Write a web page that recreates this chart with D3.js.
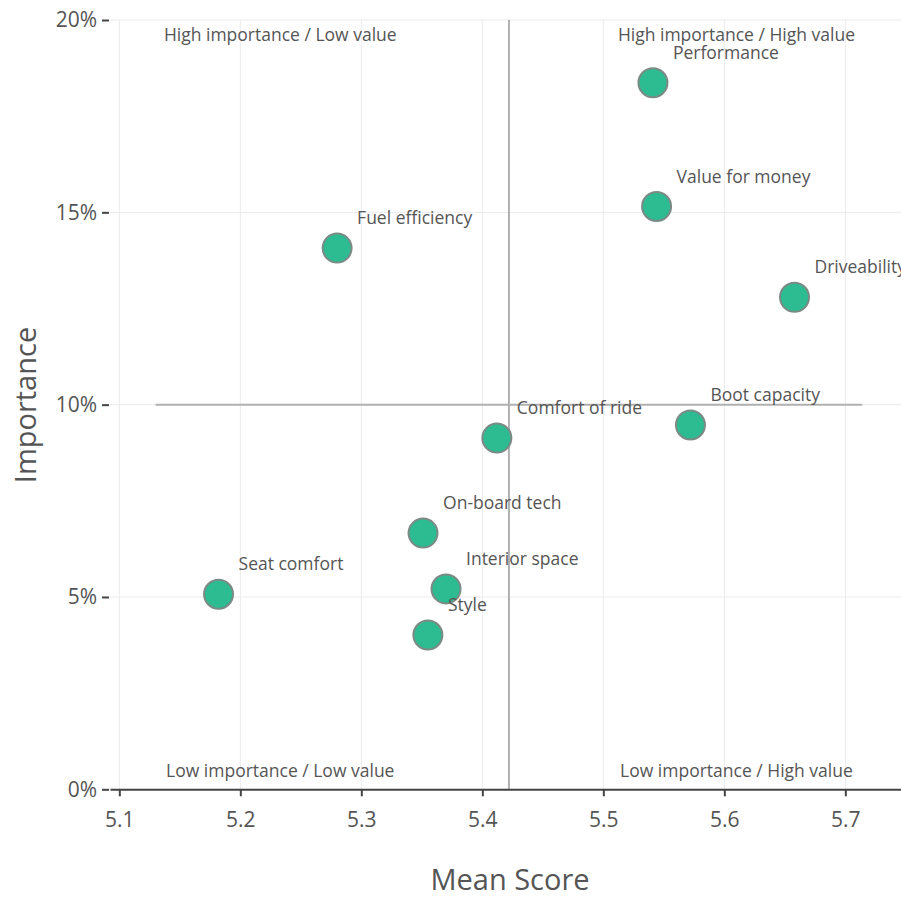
<!DOCTYPE html>
<html>
<head>
<meta charset="utf-8">
<script src="https://cdn.jsdelivr.net/npm/d3@7"></script>
<style>
  html, body { margin: 0; padding: 0; background: #fff; }
  svg { display: block; font-family: "Open Sans", "Noto Sans", sans-serif; }
</style>
</head>
<body>
<svg id="chart" width="901" height="897"></svg>
<script>
// Attributes: mean satisfaction score vs. share of importance
const attributes = ["Performance", "Value for money", "Fuel efficiency", "Driveability",
  "Boot capacity", "Comfort of ride", "On-board tech", "Seat comfort", "Interior space", "Style"];
const meanScores = [5.541, 5.544, 5.280, 5.658, 5.572, 5.412, 5.351, 5.182, 5.370, 5.355];
const importance = [18.37, 15.15, 14.07, 12.79, 9.47, 9.13, 6.66, 5.07, 5.21, 4.01];

const xTicks = [5.1, 5.2, 5.3, 5.4, 5.5, 5.6, 5.7];
const yTicks = [0, 5, 10, 15, 20];

// Quadrant dividers
const dividerScore = 5.422;
const dividerImportance = 10;
const dividerSpan = [5.130, 5.714];

const quadrantNames = ["High importance / Low value", "High importance / High value",
  "Low importance / Low value", "Low importance / High value"];
const quadrantX = [5.233, 5.610, 5.233, 5.610];
const quadrantY = [19.62, 19.62, 0.47, 0.47];

const svg = d3.select("#chart");

const x = d3.scaleLinear().domain([5.0923, 5.746]).range([110, 901]);
const y = d3.scaleLinear().domain([0, 20]).range([789.3, 20]);

// Grid
const grid = svg.append("g");
grid.selectAll("line.v").data(xTicks).join("line")
  .attr("x1", d => x(d)).attr("x2", d => x(d))
  .attr("y1", y(20)).attr("y2", y(0))
  .attr("stroke", "#ebebeb").attr("stroke-width", 1);
grid.selectAll("line.h").data(yTicks).join("line")
  .attr("x1", 110).attr("x2", 901)
  .attr("y1", d => y(d)).attr("y2", d => y(d))
  .attr("stroke", "#ebebeb").attr("stroke-width", 1);

// Divider lines
svg.append("line")
  .attr("x1", x(dividerScore)).attr("x2", x(dividerScore))
  .attr("y1", y(20)).attr("y2", y(0))
  .attr("stroke", "#b0b0b0").attr("stroke-width", 2);
svg.append("line")
  .attr("x1", x(dividerSpan[0])).attr("x2", x(dividerSpan[1]))
  .attr("y1", y(dividerImportance)).attr("y2", y(dividerImportance))
  .attr("stroke", "#b0b0b0").attr("stroke-width", 2);

// X axis
const xAxis = svg.append("g")
  .attr("transform", `translate(0,${y(0)})`)
  .call(d3.axisBottom(x).tickValues(xTicks).tickFormat(d3.format(".1f"))
    .tickSize(7).tickSizeOuter(0).tickPadding(16));
xAxis.select(".domain").attr("stroke", "#444").attr("stroke-width", 2);
xAxis.selectAll(".tick line").attr("stroke", "#444").attr("stroke-width", 2);
xAxis.selectAll(".tick text").attr("fill", "#555")
  .style("font-size", "21px").style("font-family", "'Open Sans', sans-serif");

// Y axis
const yAxis = svg.append("g")
  .attr("transform", "translate(109,0)")
  .call(d3.axisLeft(y).tickValues(yTicks).tickFormat(d => d + "%")
    .tickSize(7).tickSizeOuter(0).tickPadding(5));
yAxis.select(".domain").remove();
yAxis.selectAll(".tick line").attr("stroke", "#444").attr("stroke-width", 2);
yAxis.selectAll(".tick text").attr("fill", "#555")
  .style("font-size", "21px").style("font-family", "'Open Sans', sans-serif");

// Axis titles
svg.append("text")
  .attr("x", 510).attr("y", 890)
  .attr("text-anchor", "middle")
  .attr("fill", "#555").style("font-size", "29px")
  .text("Mean Score");
svg.append("text")
  .attr("transform", "translate(36,405) rotate(-90)")
  .attr("text-anchor", "middle")
  .attr("fill", "#555").style("font-size", "29px")
  .text("Importance");

// Quadrant captions
svg.append("g").selectAll("text").data(quadrantNames).join("text")
  .attr("x", (d, i) => x(quadrantX[i]))
  .attr("y", (d, i) => y(quadrantY[i]))
  .attr("dy", "0.35em")
  .attr("text-anchor", "middle")
  .attr("fill", "#555").style("font-size", "17.5px")
  .text(d => d);

// Points
const pts = attributes.map((name, i) => ({ name, score: meanScores[i], imp: importance[i] }));
const marks = svg.append("g");
marks.selectAll("circle").data(pts).join("circle")
  .attr("cx", d => x(d.score)).attr("cy", d => y(d.imp))
  .attr("r", 14.5)
  .attr("fill", "#2dbb92")
  .attr("stroke", "#7c8a85").attr("stroke-width", 2);

marks.selectAll("text").data(pts).join("text")
  .attr("x", d => x(d.score) + 20)
  .attr("y", d => y(d.imp) - 24)
  .attr("fill", "#555").style("font-size", "17.5px")
  .text(d => d.name);
</script>
</body>
</html>
